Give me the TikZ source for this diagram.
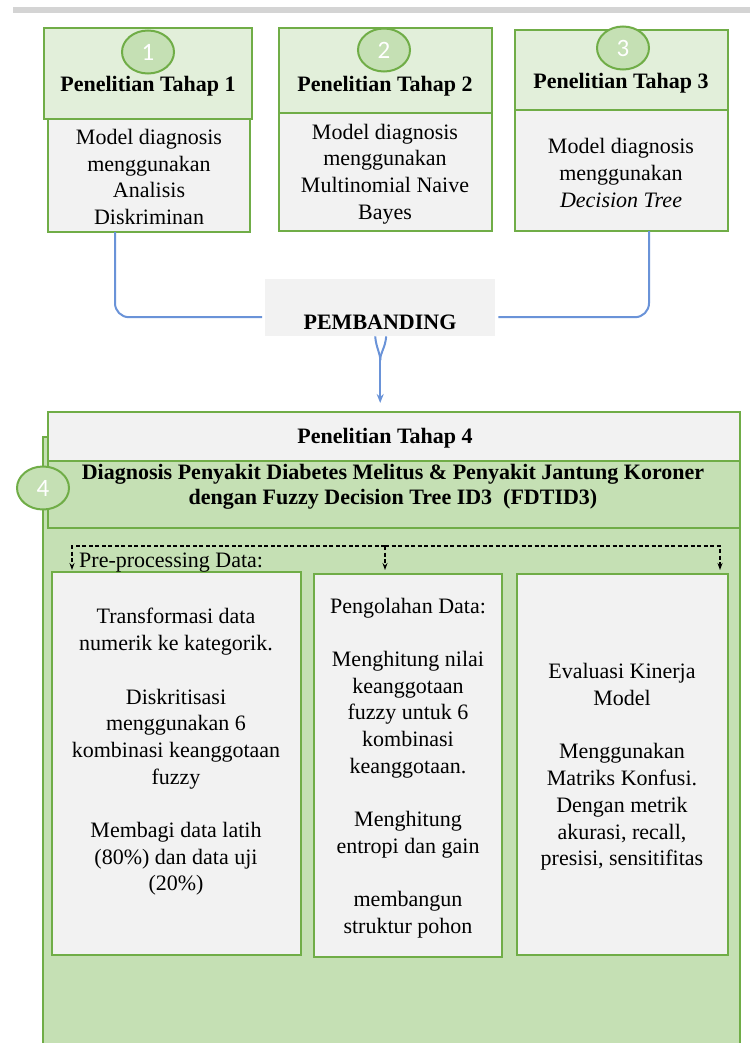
\documentclass[tikz,border=0pt]{standalone}
\usepackage{fontspec}
\setmainfont{Liberation Serif}
\newfontfamily\numfont{Carlito}
\usetikzlibrary{arrows.meta,shapes.geometric}
\definecolor{gborder}{HTML}{70AD47}
\definecolor{hdrgreen}{HTML}{E2EFDA}
\definecolor{midgreen}{HTML}{C5E0B4}
\definecolor{panelgray}{HTML}{F2F2F2}
\definecolor{cblue}{HTML}{6A93D8}
\definecolor{topbar}{HTML}{D4D4D4}
\begin{document}
\begin{tikzpicture}[x=1pt,y=-1pt,
  gbox/.style={draw=gborder, line width=1.8pt, inner sep=0pt, outer sep=0pt, anchor=north west},
  hdrbox/.style={gbox, fill=hdrgreen},
  graybox/.style={gbox, fill=panelgray},
  midbox/.style={gbox, fill=midgreen},
  numc/.style={ellipse, draw=gborder, line width=2pt, fill=midgreen, minimum width=52pt, minimum height=43pt, inner sep=0pt, text=white, font=\numfont\fontsize{25}{25}\selectfont},
  bodytxt/.style={align=center, font=\fontsize{22}{26.7}\selectfont, inner sep=0pt},
  headtxt/.style={font=\bfseries\fontsize{22}{26}\selectfont, inner sep=0pt},
  conn/.style={draw=cblue, line width=2pt},
  dline/.style={draw=black, line width=1.2pt, dash pattern=on 4pt off 2.5pt, -{Stealth[length=7pt,width=5pt]}}
]
\useasboundingbox (0,0) rectangle (750,1043);
\fill[topbar] (13,7) rectangle (750,13);

% stage 1
\node[graybox, minimum width=202pt, minimum height=113pt] (b1) at (48,119) {};
\node[hdrbox, minimum width=208pt, minimum height=91pt] (h1) at (44,28) {};
\node[numc] (c1) at (148,52) {1};
\node[headtxt] (h1t) at (148,86) {Penelitian Tahap 1};
\node[bodytxt] (b1t) at (149,177) {Model diagnosis\\menggunakan\\Analisis\\Diskriminan};

% stage 2
\node[graybox, minimum width=213pt, minimum height=118pt] (b2) at (279,113) {};
\node[hdrbox, minimum width=213pt, minimum height=85pt] (h2) at (279,28) {};
\node[numc] (c2) at (384,50) {2};
\node[headtxt] (h2t) at (385,86) {Penelitian Tahap 2};
\node[bodytxt] (b2t) at (385,174) {Model diagnosis\\menggunakan\\Multinomial Naive\\Bayes};

% stage 3
\node[graybox, minimum width=213pt, minimum height=121pt] (b3) at (515,110) {};
\node[hdrbox, minimum width=213pt, minimum height=80pt] (h3) at (515,30) {};
\node[numc] (c3) at (623,48) {3};
\node[headtxt] (h3t) at (621,83) {Penelitian Tahap 3};
\node[bodytxt] (b3t) at (621,173) {Model diagnosis\\menggunakan\\\textit{Decision Tree}};

% comparator
\node[fill=panelgray, anchor=north west, minimum width=230pt, minimum height=57pt, inner sep=0pt] (pb) at (265,279) {};
\node[headtxt] (pbt) at (380,322) {PEMBANDING};

% stage 4
\node[midbox, minimum width=697pt, minimum height=620pt] (g4) at (43,437) {};
\node[graybox, minimum width=692pt, minimum height=49pt] (t4) at (48,412) {};
\node[midbox, minimum width=692pt, minimum height=67pt] (s4) at (48,461) {};
\node[numc] (c4) at (43,488) {4};
\node[headtxt] (t4t) at (385,438) {Penelitian Tahap 4};
\node[align=center, inner sep=0pt, font=\bfseries\fontsize{22}{25}\selectfont] (s4t) at (393,487) {Diagnosis Penyakit Diabetes Melitus \& Penyakit Jantung Koroner\\dengan Fuzzy Decision Tree ID3\ \ (FDTID3)};

\node[graybox, minimum width=249pt, minimum height=383pt] (ba) at (52,572) {};
\node[graybox, minimum width=188pt, minimum height=383pt] (bb) at (314,574) {};
\node[graybox, minimum width=211pt, minimum height=381pt] (bc) at (517,574) {};

\node[anchor=west, inner sep=0pt, font=\fontsize{22}{26}\selectfont] (ppt) at (79,563) {Pre-processing Data:};

\node[bodytxt] (bat) at (176,752) {Transformasi data\\numerik ke kategorik.\\[26.7pt]Diskritisasi\\menggunakan 6\\kombinasi keanggotaan\\fuzzy\\[26.7pt]Membagi data latih\\(80\%) dan data uji\\(20\%)};
\node[bodytxt] (bbt) at (408,768) {Pengolahan Data:\\[26.7pt]Menghitung nilai\\keanggotaan\\fuzzy untuk 6\\kombinasi\\keanggotaan.\\[26.7pt]Menghitung\\entropi dan gain\\[26.7pt]membangun\\struktur pohon};
\node[bodytxt] (bct) at (622,767) {Evaluasi Kinerja\\Model\\[26.7pt]Menggunakan\\Matriks Konfusi.\\Dengan metrik\\akurasi, recall,\\presisi, sensitifitas};

% connectors
\draw[conn, rounded corners=14pt, shorten >=3pt] ([xshift=67pt]b1.south west) |- ([yshift=-9.5pt]pb.west);
\draw[conn, rounded corners=14pt, shorten >=3pt] ([xshift=134pt]b3.south west) |- ([yshift=-9.5pt]pb.east);
\draw[conn] ([xshift=-5pt]pb.south) .. controls +(1,12) and +(0,-8) .. ([yshift=-24pt]pb.south);
\draw[conn] ([xshift=6pt]pb.south) .. controls +(-1,12) and +(0,-8) .. ([yshift=-24pt]pb.south);
\draw[conn, -{Stealth[length=9pt,width=7pt]}, shorten >=9pt] ([yshift=-24pt]pb.south) -- (pb.south |- t4.north);

\coordinate (split) at (385,546);
\draw[dline, shorten >=2pt] (split) -| ([xshift=20pt]ba.north west);
\draw[dline, shorten >=4pt] (split) -- (split |- bb.north);
\draw[dline, shorten >=4pt] (split) -| ([xshift=-8pt]bc.north east);
\end{tikzpicture}
\end{document}
